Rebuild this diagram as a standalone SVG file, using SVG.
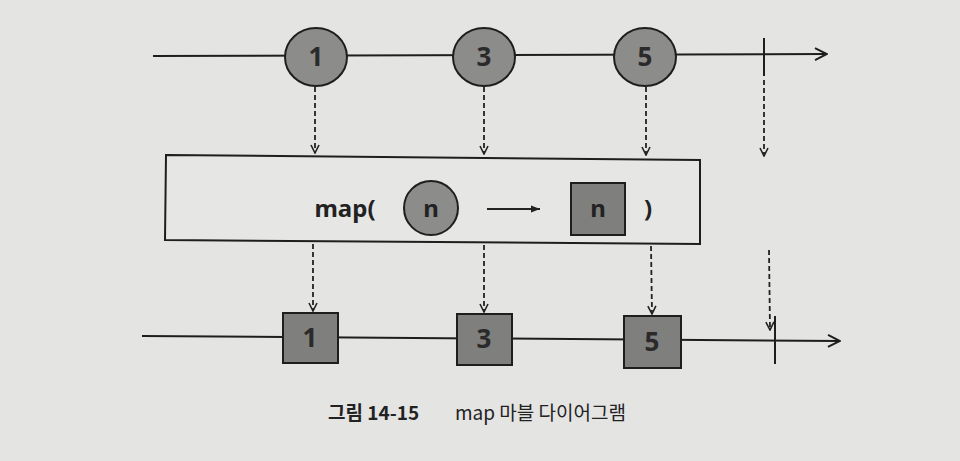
<svg xmlns="http://www.w3.org/2000/svg" width="960" height="461" viewBox="0 0 960 461">
<style>
.ln{stroke:#1e1e1e;stroke-width:2;fill:none}
.ds{stroke:#222;stroke-width:1.8;fill:none;stroke-dasharray:5 3}
.nd{fill:#8c8c8a;stroke:#1e1e1e;stroke-width:2}
.sq{fill:#7f7f7d;stroke:#1e1e1e;stroke-width:2}
.lb{font-family:"Noto Sans","Liberation Sans",sans-serif;font-weight:bold;font-size:24px;fill:#222;text-anchor:middle}
.num{font-family:"Liberation Sans Narrow","Noto Sans","Liberation Sans",sans-serif;font-weight:bold;font-size:26px;fill:#2a2a2a;text-anchor:middle}
.cap{font-family:"Noto Sans CJK KR","Noto Sans",sans-serif;font-size:19px;fill:#222}
</style>
<defs>
<marker id="ah" viewBox="0 0 10 10" refX="9" refY="5" markerWidth="10" markerHeight="10" markerUnits="userSpaceOnUse" orient="auto">
<path d="M1,1 L9,5 L1,9" fill="none" stroke="#222" stroke-width="1.6"/>
</marker>
<marker id="ah2" viewBox="0 0 14 14" refX="13" refY="7" markerWidth="14" markerHeight="14" markerUnits="userSpaceOnUse" orient="auto">
<path d="M1,1 L13,7 L1,13" fill="none" stroke="#1e1e1e" stroke-width="2"/>
</marker>
<marker id="ah3" viewBox="0 0 10 10" refX="10" refY="5" markerWidth="9" markerHeight="9" markerUnits="userSpaceOnUse" orient="auto">
<path d="M0,1 L10,5 L0,9 Z" fill="#222"/>
</marker>
</defs>
<rect width="960" height="461" fill="#e4e4e2"/>
<g id="connectors">
<line class="ln" x1="153" y1="56" x2="827" y2="54" marker-end="url(#ah2)"/>
<line class="ln" x1="764" y1="38" x2="764" y2="76"/>
<line class="ln" x1="142" y1="336" x2="840" y2="341" marker-end="url(#ah2)"/>
<line class="ln" x1="775" y1="316" x2="775" y2="364"/>
<line class="ds" x1="315" y1="87" x2="315" y2="153" marker-end="url(#ah)"/>
<line class="ds" x1="484" y1="87" x2="484" y2="154" marker-end="url(#ah)"/>
<line class="ds" x1="646" y1="87" x2="646" y2="155" marker-end="url(#ah)"/>
<line class="ds" x1="764" y1="80" x2="764" y2="156" marker-end="url(#ah)"/>
<line class="ds" x1="313" y1="244" x2="313" y2="311" marker-end="url(#ah)"/>
<line class="ds" x1="484" y1="245" x2="484" y2="312" marker-end="url(#ah)"/>
<line class="ds" x1="651" y1="246" x2="652" y2="314" marker-end="url(#ah)"/>
<line class="ds" x1="769" y1="250" x2="770" y2="330" marker-end="url(#ah)"/>
</g>
<g id="src1"><ellipse class="nd" cx="316" cy="57" rx="31" ry="29"/><text class="num" x="316" y="66">1</text></g>
<g id="src3"><ellipse class="nd" cx="484" cy="57" rx="31" ry="29"/><text class="num" x="484" y="66">3</text></g>
<g id="src5"><ellipse class="nd" cx="645" cy="57" rx="31" ry="29"/><text class="num" x="645" y="66">5</text></g>
<g id="mapbox">
<polygon points="166,155 700,160 700,244 165,240" fill="#e6e6e4" stroke="#1e1e1e" stroke-width="2"/>
<text class="lb" x="345" y="217">map(</text>
<circle class="nd" cx="431" cy="208" r="27"/>
<text class="lb" x="431" y="217">n</text>
<line x1="487" y1="209" x2="540" y2="209" stroke="#222" stroke-width="2" marker-end="url(#ah3)"/>
<rect class="sq" x="571" y="183" width="54" height="52"/>
<text class="lb" x="598" y="217">n</text>
<text class="lb" x="648" y="217">)</text>
</g>
<g id="out1"><rect class="sq" x="283" y="313" width="55" height="50"/><text class="num" x="310" y="347">1</text></g>
<g id="out3"><rect class="sq" x="457" y="314" width="55" height="51"/><text class="num" x="484" y="348">3</text></g>
<g id="out5"><rect class="sq" x="624" y="316" width="57" height="52"/><text class="num" x="652" y="351">5</text></g>
<g id="caption">
<text class="cap" x="328" y="420" font-weight="bold">그림 14-15</text>
<text class="cap" x="455" y="420">map 마블 다이어그램</text>
</g>
</svg>
